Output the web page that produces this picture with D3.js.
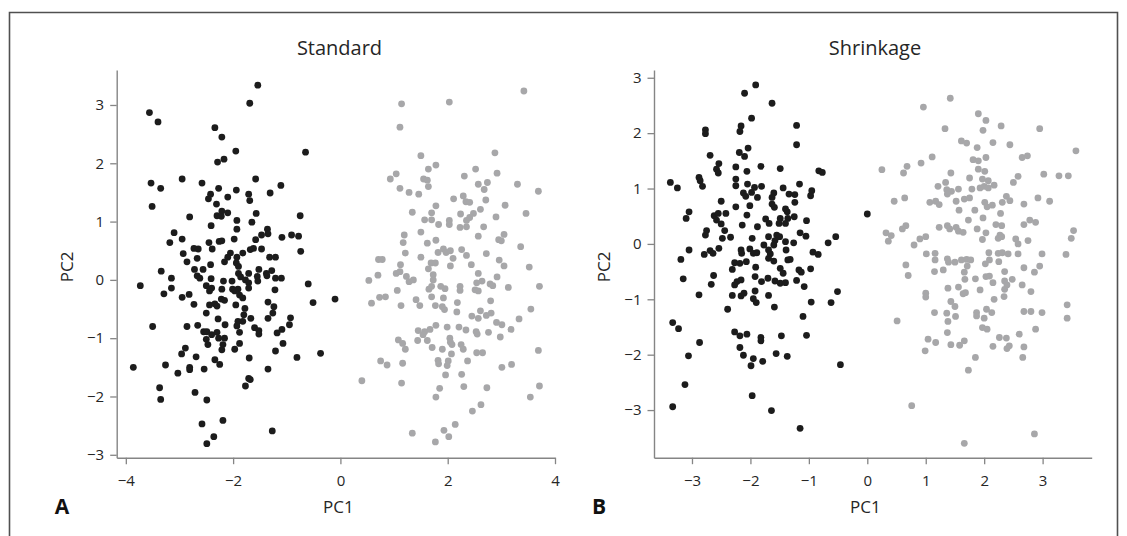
<!DOCTYPE html>
<html>
<head>
<meta charset="utf-8">
<script src="https://cdn.jsdelivr.net/npm/d3@7"></script>
<style>
  html, body { margin: 0; padding: 0; background: #fff; }
  svg { display: block; font-family: "Open Sans", "Noto Sans", sans-serif; }
</style>
</head>
<body>
<svg id="chart" width="1127" height="536"></svg>
<script>
// PC1 / PC2 scores, [PC1, PC2] per sample
const standardGroupA = [
  [-1.54,3.34],[-1.69,3.03],[-3.56,2.87],[-3.40,2.71],[-2.34,2.61],[-2.21,2.45],[-1.95,2.21],[-0.65,2.19],[-2.17,2.07],[-2.29,2.02],
  [-2.95,1.73],[-1.58,1.73],[-3.53,1.66],[-2.58,1.66],[-1.11,1.62],[-3.35,1.57],[-2.27,1.57],[-1.94,1.54],[-1.71,1.47],[-1.31,1.49],
  [-2.42,1.47],[-2.46,1.39],[-2.10,1.42],[-1.69,1.36],[-3.51,1.26],[-2.31,1.30],[-2.21,1.18],[-2.10,1.15],[-2.30,1.10],[-2.22,1.09],
  [-1.57,1.14],[-0.75,1.10],[-2.81,1.08],[-1.93,1.02],[-1.65,0.99],[-2.41,0.93],[-1.93,0.87],[-1.36,0.87],[-3.10,0.81],[-1.47,0.77],
  [-1.35,0.79],[-0.91,0.77],[-0.78,0.75],[-1.09,0.73],[-2.95,0.70],[-1.98,0.70],[-1.58,0.69],[-2.26,0.66],[-2.21,0.67],[-3.18,0.64],
  [-2.45,0.64],[-2.73,0.54],[-2.65,0.53],[-1.68,0.52],[-1.62,0.54],[-1.47,0.53],[-2.39,0.53],[-0.74,0.49],[-1.82,0.46],[-2.93,0.45],
  [-2.05,0.46],[-2.10,0.39],[-1.93,0.39],[-1.32,0.39],[-1.21,0.39],[-2.67,0.37],[-2.86,0.31],[-2.16,0.31],[-1.94,0.29],[-2.42,0.26],
  [-1.90,0.23],[-3.34,0.15],[-2.72,0.18],[-2.56,0.18],[-1.52,0.18],[-1.28,0.16],[-1.90,0.11],[-1.71,0.11],[-1.38,0.11],[-2.67,0.07],
  [-2.62,0.03],[-3.15,0.03],[-2.41,0.02],[-1.86,0.05],[-1.55,0.06],[-1.37,0.07],[-1.21,0.03],[-1.10,0.03],[-1.77,0.00],[-2.18,-0.02],
  [-2.02,-0.02],[-1.71,-0.05],[-1.54,-0.02],[-3.73,-0.10],[-0.60,-0.07],[-2.50,-0.10],[-2.40,-0.14],[-3.15,-0.14],[-2.21,-0.16],[-2.01,-0.16],
  [-1.91,-0.16],[-1.71,-0.14],[-1.22,-0.17],
  [-3.29,-0.24],[-2.95,-0.30],[-2.82,-0.25],[-2.44,-0.19],[-1.97,-0.19],[-1.88,-0.26],[-1.82,-0.31],[-0.51,-0.39],[-0.10,-0.33],
  [-2.73,-0.42],[-2.44,-0.43],[-2.34,-0.41],[-2.30,-0.45],[-2.22,-0.33],[-2.16,-0.35],[-1.95,-0.43],[-1.78,-0.49],[-1.35,-0.38],[-1.24,-0.46],
  [-2.50,-0.57],[-1.26,-0.57],[-1.80,-0.60],[-1.35,-0.66],[-0.93,-0.65],[-3.50,-0.80],[-2.86,-0.80],[-2.66,-0.78],[-2.28,-0.67],[-2.15,-0.77],
  [-1.91,-0.71],[-1.82,-0.71],[-1.67,-0.66],[-1.93,-0.79],[-0.95,-0.77],[-2.55,-0.89],[-2.49,-0.89],[-1.60,-0.82],[-1.52,-0.87],[-1.52,-0.93],
  [-1.09,-0.85],[-1.18,-0.91],[-2.40,-0.94],[-2.30,-0.90],[-1.88,-0.90],[-2.50,-1.02],[-2.27,-1.00],[-2.16,-1.00],[-2.47,-1.11],[-2.19,-1.11],
  [-2.21,-1.20],[-1.88,-1.09],[-1.97,-1.19],[-1.07,-1.09],[-2.89,-1.17],[-1.21,-1.22],[-2.96,-1.27],[-0.37,-1.26],[-2.69,-1.32],[-1.70,-1.34],
  [-0.81,-1.33],[-3.86,-1.50],[-3.26,-1.46],[-2.81,-1.50],[-2.81,-1.54],[-2.54,-1.53],[-3.03,-1.60],[-2.34,-1.37],[-2.25,-1.45],[-1.35,-1.53],
  [-1.71,-1.69],[-1.68,-1.71],[-1.77,-1.82],[-3.37,-1.85],[-3.35,-2.05],[-2.71,-1.93],[-2.49,-2.06],[-2.19,-2.41],[-2.58,-2.47],[-1.27,-2.59],
  [-2.36,-2.69],[-2.49,-2.81]
];

const standardGroupB = [
  [3.42,3.24],[1.14,3.02],[2.03,3.05],[1.11,2.62],[1.50,2.13],[2.88,2.18],[1.64,1.90],[1.78,1.97],[2.52,1.90],[1.04,1.82],
  [0.93,1.73],[1.55,1.73],[1.62,1.71],[2.31,1.78],[2.92,1.83],[1.64,1.60],[2.57,1.64],[2.74,1.67],[2.68,1.55],[3.30,1.64],
  [1.11,1.57],[1.28,1.50],[1.46,1.47],[3.69,1.52],[2.11,1.39],[2.29,1.44],[2.34,1.34],[2.41,1.33],[2.71,1.37],[1.78,1.27],
  [3.07,1.28],[1.34,1.16],[1.70,1.15],[2.61,1.21],[2.24,1.13],[2.48,1.14],[3.46,1.14],[1.57,1.03],[1.70,1.03],[1.83,0.95],
  [2.03,1.02],[2.03,0.95],[2.35,1.02],[2.41,1.07],[2.90,1.08],[2.23,0.90],[2.35,0.91],[2.67,0.91],[1.50,0.82],[1.19,0.77],
  [2.57,0.75],[3.05,0.78],[2.95,0.69],[3.00,0.67],[1.17,0.64],[1.62,0.63],[1.78,0.68],[3.36,0.57],[1.82,0.47],[1.92,0.53],
  [1.97,0.47],[2.05,0.50],[2.26,0.52],[1.21,0.46],[2.35,0.42],[2.72,0.45],[0.71,0.35],[0.78,0.35],[1.50,0.39],[2.10,0.37],
  [2.96,0.34],[1.12,0.26],[1.69,0.29],[1.77,0.29],[2.05,0.24],[2.44,0.26],[3.05,0.24],[1.64,0.19],[3.52,0.22],[0.70,0.08],
  [1.04,0.11],[1.11,0.14],[1.23,0.06],[1.73,0.09],[2.57,0.11],[0.53,-0.01],[1.28,-0.03],[1.36,0.00],[1.73,0.00],[2.64,-0.02],
  [2.54,-0.05],[2.92,0.05],[2.79,-0.07],[2.84,-0.10],[1.06,-0.18],[1.65,-0.16],[1.70,-0.11],[1.87,-0.11],[1.95,-0.15],[2.23,-0.11],
  [2.23,-0.18],[2.51,-0.17],[2.57,-0.19],[3.13,-0.13],[3.71,-0.11],
  [0.73,-0.30],[0.84,-0.29],[0.58,-0.40],[1.13,-0.44],[1.41,-0.34],[1.48,-0.44],[1.70,-0.29],[1.77,-0.44],[1.92,-0.31],[1.94,-0.51],
  [1.90,-0.46],[2.18,-0.39],[2.17,-0.55],[2.80,-0.36],[2.45,-0.62],[2.57,-0.66],[2.61,-0.53],[2.72,-0.61],[2.81,-0.57],[2.91,-0.73],
  [3.01,-0.77],[3.55,-0.50],[3.33,-0.67],[3.18,-0.85],[2.98,-0.98],[1.78,-0.78],[1.67,-0.85],[1.57,-0.89],[1.45,-0.87],[1.54,-0.94],
  [1.99,-0.81],[2.21,-0.81],[2.34,-0.86],[2.53,-0.89],[2.55,-0.93],[2.76,-0.90],[1.08,-1.03],[1.16,-1.09],[1.44,-1.04],[1.62,-1.04],
  [2.04,-1.00],[2.05,-1.07],[2.08,-1.11],[2.25,-1.11],[2.29,-1.19],[1.21,-1.19],[1.71,-1.16],[1.90,-1.19],[2.07,-1.27],[2.54,-1.25],
  [2.65,-1.25],[3.69,-1.21],[0.75,-1.39],[0.87,-1.46],[1.16,-1.43],[1.82,-1.38],[1.83,-1.44],[2.01,-1.39],[1.99,-1.47],[2.37,-1.39],
  [3.01,-1.50],[3.19,-1.45],[1.96,-1.63],[2.26,-1.62],[0.40,-1.73],[1.14,-1.77],[1.85,-1.86],[2.30,-1.83],[2.73,-1.85],[3.71,-1.82],
  [1.78,-2.01],[3.54,-2.01],[2.62,-2.14],[2.46,-2.25],[2.14,-2.48],[1.34,-2.63],[1.93,-2.58],[2.02,-2.69],[1.77,-2.78]
];

const shrinkageGroupA = [
  [-1.91,2.87],[-2.10,2.72],[-1.63,2.54],[-1.98,2.27],[-1.21,2.14],[-2.16,2.13],[-2.77,2.06],[-2.77,1.99],[-2.18,2.03],[-1.21,1.79],
  [-2.04,1.73],[-2.19,1.65],[-2.10,1.58],[-2.69,1.60],[-2.54,1.45],[-2.58,1.35],[-2.55,1.28],[-2.25,1.39],[-2.06,1.31],[-1.82,1.40],
  [-1.49,1.36],[-0.83,1.32],[-0.77,1.29],[-2.88,1.20],[-2.86,1.14],[-2.82,1.04],[-3.37,1.11],[-3.25,1.01],[-2.25,1.17],[-2.25,1.05],
  [-2.05,1.08],[-1.93,1.02],[-1.81,1.04],[-1.44,1.01],[-1.16,1.08],[-2.12,0.92],[-1.98,0.93],[-2.08,0.86],[-1.88,0.84],[-1.60,0.92],
  [-1.63,0.84],[-1.34,0.90],[-1.24,0.89],[-0.95,0.96],[-0.97,0.87],[-2.50,0.77],[-1.24,0.75],[-2.25,0.67],[-2.01,0.69],[-1.63,0.72],
  [-1.59,0.66],[-1.40,0.63],[-1.37,0.58],[-3.05,0.58],[-3.10,0.46],[-2.62,0.51],[-2.55,0.55],[-2.42,0.55],[-2.58,0.43],[-2.50,0.36],
  [-2.06,0.52],[-1.49,0.46],[-1.36,0.46],[-1.25,0.49],[-1.04,0.42],[-1.74,0.45],[-1.68,0.37],[-1.51,0.37],[-1.40,0.37],[-2.14,0.34],
  [-1.88,0.31],[0.00,0.54],[-2.75,0.24],[-2.77,0.16],[-2.44,0.24],[-2.48,0.10],[-2.34,0.12],[-1.97,0.10],[-1.69,0.13],[-1.55,0.16],
  [-1.50,0.13],[-1.58,0.06],[-1.15,0.20],[-1.05,0.14],[-0.54,0.13],[-0.67,0.02],[-1.40,0.04],[-1.26,0.02],[-1.77,-0.02],[-1.60,-0.02],
  [-3.05,-0.11],[-2.54,-0.08],[-3.19,-0.28],[-2.79,-0.19],[-2.69,-0.12],[-2.64,-0.17],[-2.16,-0.11],[-2.15,-0.17],[-2.01,-0.09],[-1.95,-0.17],
  [-1.89,-0.16],[-1.69,-0.11],[-1.66,-0.18],[-1.69,-0.26],[-1.60,-0.31],[-1.39,-0.11],[-1.36,-0.29],[-1.32,-0.28],[-0.93,-0.15],[-0.84,-0.19],
  [-2.27,-0.34],[-2.18,-0.35],[-2.07,-0.32],[-2.31,-0.46],[-1.91,-0.42],[-1.49,-0.44],[-1.44,-0.53],[-1.17,-0.47],[-1.13,-0.51],[-0.97,-0.45],
  [-2.63,-0.57],[-3.15,-0.63],[-1.92,-0.59],[-2.67,-0.73],[-2.23,-0.68],[-2.16,-0.65],[-2.27,-0.74],[-1.81,-0.68],[-1.70,-0.62],[-1.58,-0.67],
  [-1.49,-0.71],[-1.40,-0.70],[-1.21,-0.66],[-1.08,-0.77],
  [-2.88,-0.92],[-2.31,-0.93],[-2.16,-0.94],[-2.11,-0.89],[-1.92,-0.85],[-1.95,-0.99],[-1.90,-1.06],[-1.69,-0.93],[-1.59,-1.14],[-0.96,-1.05],
  [-0.62,-1.06],[-0.51,-0.86],[-2.39,-1.18],[-3.33,-1.42],[-3.23,-1.53],[-1.10,-1.31],[-2.27,-1.59],[-2.18,-1.66],[-2.06,-1.63],[-1.82,-1.69],
  [-1.82,-1.75],[-1.47,-1.66],[-1.04,-1.65],[-2.87,-1.78],[-2.18,-1.87],[-3.06,-2.02],[-2.12,-2.01],[-1.95,-2.07],[-1.79,-2.12],[-1.99,-2.20],
  [-1.56,-1.98],[-1.37,-2.03],[-0.46,-2.18],[-3.12,-2.54],[-1.97,-2.74],[-3.33,-2.94],[-1.64,-3.01],[-1.15,-3.33]
];

const shrinkageGroupB = [
  [1.42,2.63],[0.96,2.47],[1.90,2.35],[2.03,2.23],[1.33,2.08],[1.98,2.05],[2.29,2.13],[2.95,2.08],[1.61,1.86],[1.70,1.82],
  [1.88,1.74],[2.15,1.83],[2.44,1.79],[3.57,1.68],[1.11,1.57],[0.92,1.46],[0.68,1.40],[0.62,1.28],[0.25,1.34],[1.81,1.52],
  [1.90,1.50],[2.03,1.56],[2.65,1.56],[2.74,1.59],[1.43,1.28],[1.75,1.19],[1.90,1.35],[2.01,1.31],[1.97,1.17],[2.07,1.14],
  [2.58,1.22],[2.50,1.11],[3.02,1.26],[3.28,1.23],[3.44,1.23],[1.21,1.04],[1.34,1.11],[1.36,0.98],[1.44,0.95],[1.56,0.99],
  [1.79,0.99],[1.93,1.01],[2.00,1.04],[2.07,1.01],[2.17,1.06],[1.37,0.90],[0.46,0.77],[0.64,0.83],[1.07,0.75],[1.17,0.77],
  [1.23,0.71],[1.52,0.77],[1.66,0.81],[1.75,0.83],[2.01,0.75],[2.05,0.67],[2.14,0.70],[2.31,0.75],[2.38,0.86],[2.44,0.78],
  [2.68,0.72],[2.92,0.83],[3.12,0.77],[1.57,0.61],[1.84,0.61],[2.28,0.55],[1.98,0.47],[1.73,0.43],[2.78,0.43],[2.88,0.39],
  [2.68,0.35],[2.20,0.35],[2.30,0.33],[0.66,0.33],[0.60,0.27],[0.32,0.20],[0.41,0.15],[0.36,0.05],[1.23,0.30],[1.37,0.33],
  [1.41,0.27],[1.52,0.30],[1.56,0.23],[1.64,0.21],[1.88,0.27],[2.03,0.20],[2.27,0.16],[2.24,0.10],[2.30,0.13],[1.97,0.08],
  [2.54,0.09],[2.58,0.00],[2.75,0.06],[3.53,0.24],[3.49,0.10],[0.80,-0.02],[0.90,0.09],[1.00,0.13],[1.01,-0.18],[1.16,-0.17],
  [1.16,-0.29],[1.37,-0.27],[1.39,-0.33],[1.50,-0.33],[1.61,-0.29],[1.70,-0.28],[1.77,-0.29],[2.08,-0.16],[2.09,-0.29],[2.24,-0.17],
  [2.31,-0.16],[2.41,-0.18],[2.58,-0.18],[2.25,-0.32],[2.02,-0.36],[2.99,-0.18],[3.40,-0.19],[0.66,-0.38],[0.70,-0.57],[1.15,-0.50],
  [1.30,-0.47],[1.66,-0.51],[1.71,-0.40],[2.35,-0.50],[2.68,-0.43],[2.86,-0.51],[2.95,-0.40],[1.67,-0.64],[1.85,-0.63],[2.03,-0.59],
  [2.09,-0.58],[2.15,-0.70],[2.35,-0.67],[2.39,-0.74],[2.48,-0.64],[2.65,-0.74],[1.38,-0.80],[1.56,-0.78],[1.93,-0.83],[2.35,-0.82],
  [2.80,-0.86],
  [1.00,-0.89],[1.00,-0.96],[1.64,-0.90],[1.68,-0.88],[2.34,-0.95],[2.17,-1.00],[1.43,-1.04],[1.50,-1.13],[1.15,-1.24],[1.36,-1.25],
  [1.51,-1.31],[1.38,-1.40],[1.87,-1.24],[1.87,-1.30],[2.04,-1.18],[2.13,-1.24],[2.00,-1.34],[1.97,-1.51],[2.05,-1.54],[0.51,-1.39],
  [2.68,-1.22],[2.80,-1.22],[2.99,-1.24],[3.42,-1.10],[3.42,-1.34],[2.88,-1.54],[1.37,-1.60],[2.60,-1.63],[1.04,-1.72],[1.17,-1.78],
  [0.99,-1.93],[1.43,-1.82],[1.58,-1.83],[1.66,-1.75],[2.26,-1.69],[2.38,-1.70],[2.15,-1.85],[2.39,-1.89],[2.43,-1.84],[2.68,-1.86],
  [2.66,-2.05],[1.85,-2.05],[1.73,-2.28],[0.76,-2.92],[2.86,-3.43],[1.66,-3.60]
];

const standardXTicks = [-4, -2, 0, 2, 4];
const shrinkageXTicks = [-3, -2, -1, 0, 1, 2, 3];
const yTicks = [-3, -2, -1, 0, 1, 2, 3];
const panelTitles = ["Standard", "Shrinkage"];
const panelLetters = ["A", "B"];

const colorA = "#1c1c1c";
const colorB = "#a7a7a9";
const axisColor = "#858585";
const textColor = "#262626";

const svg = d3.select("#chart");

// outer figure frame (open at the bottom)
svg.append("path")
  .attr("d", "M9.5,560V12.5H1117.5V560")
  .attr("fill", "none")
  .attr("stroke", "#505050")
  .attr("stroke-width", 1.6);

const panels = [
  { title: panelTitles[0], letter: panelLetters[0], groups: [standardGroupA, standardGroupB],
    xDomain: [-4.17, 4], yDomain: [-3.05, 3.6], xTicks: standardXTicks,
    left: 116.7, right: 555, titleX: 339.5 },
  { title: panelTitles[1], letter: panelLetters[1], groups: [shrinkageGroupA, shrinkageGroupB],
    xDomain: [-3.65, 3.84], yDomain: [-3.86, 3.14], xTicks: shrinkageXTicks,
    left: 654, right: 1091.7, titleX: 875 }
];

const plotTop = 70, plotBottom = 457.7;
const intFormat = d3.format("d");

panels.forEach(p => {
  const x = d3.scaleLinear().domain(p.xDomain).range([p.left, p.right]);
  const y = d3.scaleLinear().domain(p.yDomain).range([plotBottom, plotTop]);
  const g = svg.append("g");

  const yAxis = g.append("g")
    .attr("transform", `translate(${p.left},0)`)
    .call(d3.axisLeft(y).tickValues(yTicks).tickFormat(intFormat)
      .tickSize(6.5).tickSizeOuter(0).tickPadding(6));
  const xAxis = g.append("g")
    .attr("transform", `translate(0,${plotBottom})`)
    .call(d3.axisBottom(x).tickValues(p.xTicks).tickFormat(intFormat)
      .tickSize(6.5).tickSizeOuter(0).tickPadding(11.5));

  [yAxis, xAxis].forEach(a => {
    a.select(".domain").attr("stroke", axisColor).attr("stroke-width", 1.4);
    a.selectAll(".tick line").attr("stroke", axisColor).attr("stroke-width", 1.3);
    a.selectAll(".tick text")
      .attr("fill", textColor)
      .style("font-size", "15px")
      .style("font-family", "'Open Sans', sans-serif");
  });

  // sample scores, one colour per class
  p.groups.forEach((pts, i) => {
    g.append("g").selectAll("circle")
      .data(pts)
      .join("circle")
      .attr("cx", d => x(d[0]))
      .attr("cy", d => y(d[1]))
      .attr("r", 3.4)
      .attr("fill", i === 0 ? colorA : colorB);
  });

  g.append("text")
    .attr("x", p.titleX).attr("y", 55)
    .attr("text-anchor", "middle")
    .attr("fill", textColor)
    .style("font-size", "20px")
    .text(p.title);

  g.append("text")
    .attr("x", x(0) - 2).attr("y", 512.5)
    .attr("text-anchor", "middle")
    .attr("fill", textColor)
    .style("font-size", "17px")
    .text("PC1");

  g.append("text")
    .attr("transform", `translate(${p.left - 44},${(plotTop + plotBottom) / 2 + 3}) rotate(-90)`)
    .attr("text-anchor", "middle")
    .attr("fill", textColor)
    .style("font-size", "17px")
    .text("PC2");

  g.append("text")
    .attr("x", p.left - 62).attr("y", 513.5)
    .attr("fill", "#111")
    .style("font-size", "21px")
    .style("font-weight", "bold")
    .text(p.letter);
});
</script>
</body>
</html>
